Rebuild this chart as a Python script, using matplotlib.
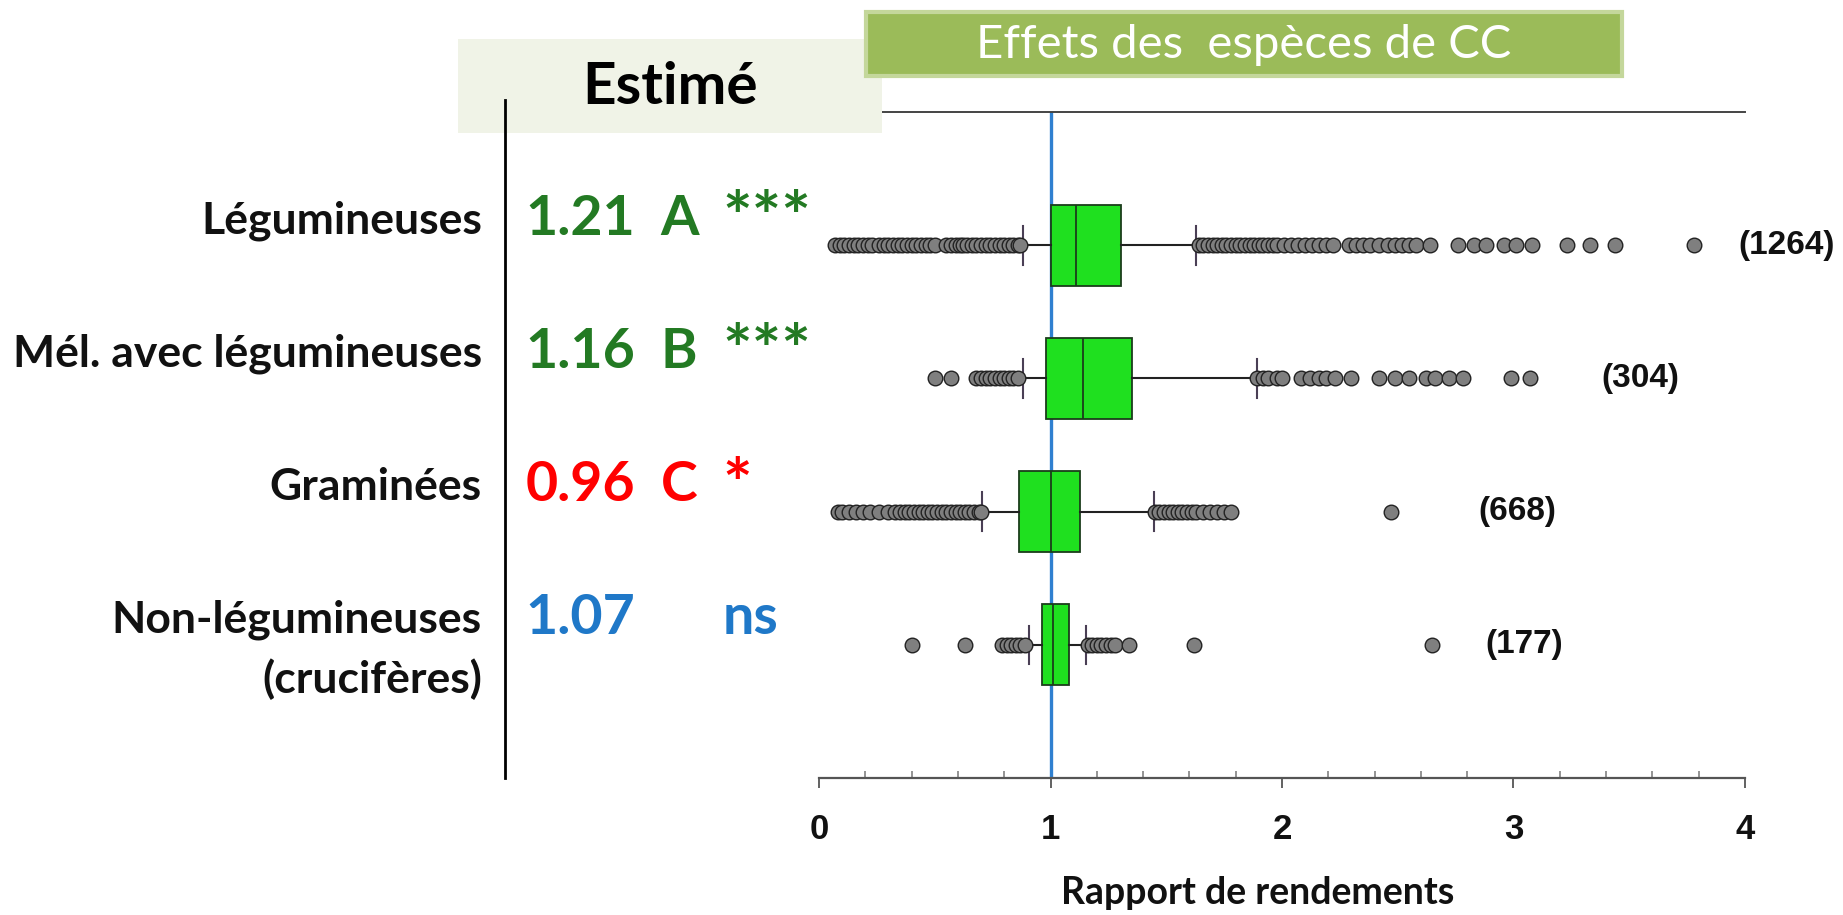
import matplotlib
matplotlib.use("Agg")
import matplotlib.pyplot as plt
from matplotlib.patches import Rectangle
from matplotlib.lines import Line2D
from matplotlib import transforms

# --- data ---
categories = ["Légumineuses", "Mél. avec légumineuses", "Graminées",
              "Non-légumineuses\n(crucifères)"]
estimates = ["1.21", "1.16", "0.96", "1.07"]
groups = ["A", "B", "C", ""]
signif = ["***", "***", "*", "ns"]
row_colors = ["#237a23", "#237a23", "#ff0000", "#1f78c8"]
counts = ["(1264)", "(304)", "(668)", "(177)"]
count_x = [3.97, 3.38, 2.85, 2.88]

q1 = [1.00, 0.98, 0.864, 0.965]
med = [1.11, 1.14, 1.00, 1.01]
q3 = [1.306, 1.35, 1.126, 1.08]
whis_lo = [0.883, 0.88, 0.705, 0.907]
whis_hi = [1.63, 1.89, 1.447, 1.152]

fliers_leg = [0.07, 0.09, 0.11, 0.13, 0.15, 0.17, 0.19, 0.21, 0.23,
              0.26, 0.28, 0.30, 0.32, 0.34, 0.36, 0.38, 0.40, 0.42, 0.44,
              0.46, 0.48, 0.50, 0.55, 0.57, 0.59, 0.61, 0.62, 0.64, 0.66,
              0.68, 0.70, 0.72, 0.74, 0.76, 0.78, 0.80, 0.82, 0.84, 0.86, 0.87,
              1.64, 1.66, 1.68, 1.70, 1.72, 1.74, 1.76, 1.78, 1.80, 1.82,
              1.84, 1.86, 1.88, 1.90, 1.92, 1.94, 1.96, 1.98, 2.01, 2.04,
              2.07, 2.10, 2.13, 2.16, 2.19, 2.22, 2.29, 2.32, 2.35, 2.38,
              2.42, 2.46, 2.49, 2.52, 2.55, 2.58, 2.64, 2.76, 2.83, 2.88,
              2.96, 3.01, 3.08, 3.23, 3.33, 3.44, 3.78]
fliers_mel = [0.50, 0.57, 0.68, 0.70, 0.72, 0.74, 0.76, 0.78, 0.80, 0.82,
              0.84, 0.86, 1.89, 1.92, 1.94, 1.98, 2.00, 2.08, 2.12, 2.16,
              2.19, 2.23, 2.30, 2.42, 2.49, 2.55, 2.62, 2.66, 2.72, 2.78,
              2.99, 3.07]
fliers_gra = [0.08, 0.10, 0.13, 0.16, 0.19, 0.22, 0.26, 0.30, 0.33, 0.35,
              0.37, 0.39, 0.41, 0.43, 0.45, 0.47, 0.49, 0.51, 0.53, 0.55,
              0.57, 0.59, 0.61, 0.63, 0.65, 0.67, 0.69, 0.70,
              1.45, 1.47, 1.49, 1.51, 1.53, 1.55, 1.57, 1.59, 1.61, 1.63,
              1.66, 1.69, 1.72, 1.75, 1.78, 2.47]
fliers_non = [0.40, 0.63, 0.79, 0.81, 0.83, 0.85, 0.87, 0.89,
              1.16, 1.18, 1.20, 1.22, 1.24, 1.26, 1.28, 1.34, 1.62, 2.65]
fliers = [fliers_leg, fliers_mel, fliers_gra, fliers_non]

xticks = [0, 1, 2, 3, 4]

# --- figure ---
fig = plt.figure(figsize=(18.43, 9.15), dpi=100)
ax = fig.add_axes([0.4444, 0.1497, 0.5024, 0.7279])

stats = []
for i in range(4):
    stats.append(dict(q1=q1[i], med=med[i], q3=q3[i], whislo=whis_lo[i],
                      whishi=whis_hi[i], fliers=fliers[i]))
pos = [1, 2, 3, 4]

ax.axvline(1, color="#2f80d0", lw=2.4, zorder=1)
ax.bxp(stats, positions=pos, widths=0.61, orientation="horizontal",
       patch_artist=True, capwidths=0.29,
       boxprops=dict(facecolor="#1fe01f", edgecolor="#1b3d1b", lw=1.3),
       medianprops=dict(color="#1b3d1b", lw=1.3),
       whiskerprops=dict(color="#222222", lw=1.5),
       capprops=dict(color="#4a3f55", lw=1.5),
       flierprops=dict(marker="o", markersize=10.5, markerfacecolor="#7f7f7f",
                       markeredgecolor="#222222", markeredgewidth=1.0))

for i, c in enumerate(counts):
    ax.text(count_x[i], pos[i], c, ha="left", va="center", fontsize=24,
            fontweight="bold", family="Liberation Sans", color="#111111",
            clip_on=False)

ax.set_xlim(0, 4)
ax.set_ylim(5, 0)
ax.set_yticks([])
ax.set_xticks(xticks)
ax.set_xticklabels([str(t) for t in xticks], fontsize=25, fontweight="bold",
                   family="Liberation Sans", color="#111111")
ax.set_xticks([x / 5 for x in range(21) if x % 5], minor=True)
ax.tick_params(which="major", direction="out", length=7, width=1.3,
               color="#555555", pad=18)
ax.tick_params(which="minor", direction="in", length=5, width=1.1,
               color="#777777")
for s in ["left", "right"]:
    ax.spines[s].set_visible(False)
ax.spines["bottom"].set_color("#555555")
ax.spines["bottom"].set_linewidth(1.6)
ax.spines["top"].set_color("#444444")
ax.spines["top"].set_linewidth(1.4)
ax.text(0.474, -0.173, "Rapport de rendements", transform=ax.transAxes,
        ha="center", va="center", fontsize=27, fontweight="bold",
        family="Lato", color="#111111")

# --- left side texts ---
tr = transforms.blended_transform_factory(fig.transFigure, ax.transData)
for i, cat in enumerate(categories):
    for k, line in enumerate(cat.split("\n")):
        ax.text(0.2615, pos[i] - 0.09 + 0.45 * k, line, transform=tr,
                ha="right", va="baseline", fontsize=32, fontweight="bold",
                family="Lato", color="#111111", clip_on=False)
    ax.text(0.285, pos[i] - 0.08, estimates[i], transform=tr, ha="left",
            va="baseline", fontsize=40, fontweight="bold", family="Lato",
            color=row_colors[i], clip_on=False)
    ax.text(0.3585, pos[i] - 0.08, groups[i], transform=tr, ha="left",
            va="baseline", fontsize=40, fontweight="bold", family="Lato",
            color=row_colors[i], clip_on=False)
    is_ns = signif[i] == "ns"
    ax.text(0.392, pos[i] - (0.08 if is_ns else 0.03), signif[i],
            transform=tr, ha="left", va="baseline",
            fontsize=40 if is_ns else 50, fontweight="bold",
            family="Lato", color=row_colors[i], clip_on=False)

# header boxes
fig.add_artist(Rectangle((0.2485, 0.8546), 0.230, 0.1027,
                         transform=fig.transFigure, facecolor="#f0f3e7",
                         edgecolor="none", zorder=3))
fig.text(0.3635, 0.904, "Estimé", ha="center", va="center", fontsize=42,
         fontweight="bold", family="Lato", color="#000000", zorder=4)
fig.add_artist(Line2D([505 / 1843, 505 / 1843], [1 - 100 / 915, 1 - 778 / 915],
                      transform=fig.transFigure, color="#000000", lw=2,
                      zorder=5))
fig.add_artist(Rectangle((0.470, 0.917), 0.410, 0.070,
                         transform=fig.transFigure, facecolor="#9bbb59",
                         edgecolor="#c4d79b", lw=3, zorder=6))
fig.text(0.675, 0.951, "Effets des  espèces de CC", ha="center",
         va="center", fontsize=34, family="Lato", color="white", zorder=7)

fig.savefig("out.png", dpi=100)
